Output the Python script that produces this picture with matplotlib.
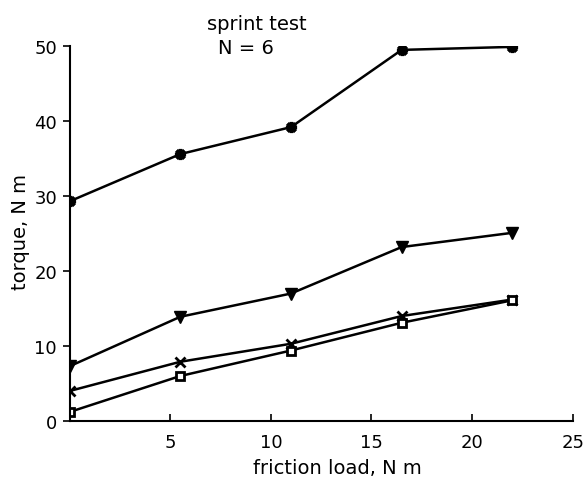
import matplotlib
matplotlib.use("Agg")
import matplotlib.pyplot as plt

friction_load = [0, 5.5, 11, 16.5, 22]
torque_star = [29.3, 35.6, 39.2, 49.5, 49.9]
torque_triangle = [7.3, 13.9, 17.0, 23.2, 25.1]
torque_cross = [4.0, 7.9, 10.3, 14.0, 16.2]
torque_square = [1.2, 6.0, 9.4, 13.1, 16.1]

x_ticks = [5, 10, 15, 20, 25]
y_ticks = [0, 10, 20, 30, 40, 50]

plt.rcParams['font.family'] = ['DejaVu Sans']
fig = plt.figure(figsize=(5.85, 4.81), dpi=100)
ax = fig.add_axes([0.119, 0.1227, 0.86, 0.7793])

lw = 1.8
ax.plot(friction_load, torque_star, color='black', lw=lw, marker=(8, 2, 0), ms=8, mew=2.5)
ax.plot(friction_load, torque_triangle, color='black', lw=lw, marker='v', ms=8)
ax.plot(friction_load, torque_cross, color='black', lw=lw, marker='x', ms=7, mew=2)
ax.plot(friction_load, torque_square, color='black', lw=lw, marker='s', ms=6,
        mfc='white', mew=2)

ax.set_xlim(0, 25)
ax.set_ylim(0, 50)
ax.set_xticks(x_ticks)
ax.set_yticks(y_ticks)
ax.spines['top'].set_visible(False)
ax.spines['right'].set_visible(False)
ax.spines['left'].set_linewidth(1.5)
ax.spines['bottom'].set_linewidth(1.5)
ax.tick_params(axis='both', labelsize=13, width=1.2, length=5, direction='out')
ax.tick_params(axis='x', direction='in', pad=9)
ax.tick_params(axis='y', pad=4)

fig.text(337 / 585, 1 - 469 / 481, 'friction load, N m', ha='center', va='center', fontsize=14)
fig.text(20 / 585, 1 - 232 / 481, 'torque, N m', ha='center', va='center',
         rotation=90, fontsize=14)

fig.text(257 / 585, 1 - 25 / 481, 'sprint test', ha='center', va='center', fontsize=14)
fig.text(246 / 585, 1 - 49 / 481, 'N = 6', ha='center', va='center', fontsize=14)

fig.savefig('out.png', dpi=100)
